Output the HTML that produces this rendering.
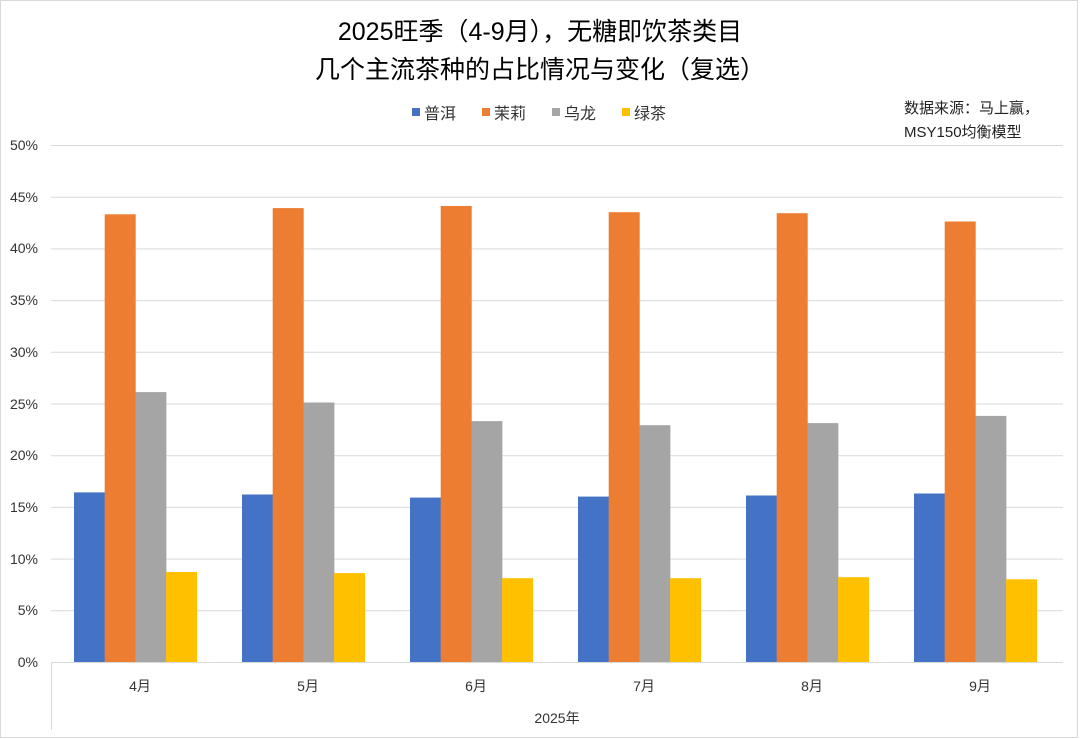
<!DOCTYPE html>
<html><head><meta charset="utf-8"><style>
html,body{margin:0;padding:0;background:#fff}
svg{display:block}
text{font-family:"Liberation Sans","Noto Sans CJK SC",sans-serif}
</style></head><body>
<svg width="1080" height="739" viewBox="0 0 1080 739" xmlns="http://www.w3.org/2000/svg">
<rect x="0.5" y="0.5" width="1077" height="737" fill="#fff" stroke="#d9d9d9"/>
<text x="540" y="40" font-size="25" text-anchor="middle" fill="#000">2025旺季（4-9月），无糖即饮茶类目</text>
<text x="540" y="78" font-size="25" text-anchor="middle" fill="#000">几个主流茶种的占比情况与变化（复选）</text>
<g font-size="16" fill="#333">
<rect x="412" y="108" width="8" height="8" fill="#4472c4"/><text x="424" y="119">普洱</text>
<rect x="482" y="108" width="8" height="8" fill="#ed7d31"/><text x="494" y="119">茉莉</text>
<rect x="552" y="108" width="8" height="8" fill="#a5a5a5"/><text x="564" y="119">乌龙</text>
<rect x="622" y="108" width="8" height="8" fill="#ffc000"/><text x="634" y="119">绿茶</text>
</g>
<text x="904" y="113" font-size="15" fill="#222">数据来源：马上赢，</text>
<text x="904" y="137" font-size="15" fill="#222">MSY150均衡模型</text>
<g stroke="#d9d9d9" stroke-width="1">
<line x1="51" y1="145.5" x2="1063" y2="145.5"/>
<line x1="51" y1="197.2" x2="1063" y2="197.2"/>
<line x1="51" y1="248.9" x2="1063" y2="248.9"/>
<line x1="51" y1="300.6" x2="1063" y2="300.6"/>
<line x1="51" y1="352.3" x2="1063" y2="352.3"/>
<line x1="51" y1="404" x2="1063" y2="404"/>
<line x1="51" y1="455.7" x2="1063" y2="455.7"/>
<line x1="51" y1="507.4" x2="1063" y2="507.4"/>
<line x1="51" y1="559.1" x2="1063" y2="559.1"/>
<line x1="51" y1="610.8" x2="1063" y2="610.8"/>
<line x1="51" y1="662.5" x2="1063" y2="662.5"/>
<line x1="51.5" y1="662" x2="51.5" y2="730"/>
</g>
<g font-size="14" fill="#333" text-anchor="end">
<text x="38" y="150">50%</text><text x="38" y="202">45%</text><text x="38" y="253">40%</text>
<text x="38" y="305">35%</text><text x="38" y="357">30%</text><text x="38" y="409">25%</text>
<text x="38" y="460">20%</text><text x="38" y="512">15%</text><text x="38" y="564">10%</text>
<text x="38" y="615">5%</text><text x="38" y="667">0%</text>
</g>
<g>
<rect x="74" y="492.4" width="31" height="169.6" fill="#4472c4"/>
<rect x="104.7" y="214.3" width="31" height="447.7" fill="#ed7d31"/>
<rect x="135.4" y="392.1" width="31" height="269.9" fill="#a5a5a5"/>
<rect x="166.1" y="572" width="31" height="90" fill="#ffc000"/>

<rect x="242" y="494.5" width="31" height="167.5" fill="#4472c4"/>
<rect x="272.7" y="208.1" width="31" height="453.9" fill="#ed7d31"/>
<rect x="303.4" y="402.5" width="31" height="259.5" fill="#a5a5a5"/>
<rect x="334.1" y="573.1" width="31" height="88.9" fill="#ffc000"/>

<rect x="410" y="497.6" width="31" height="164.4" fill="#4472c4"/>
<rect x="440.7" y="206" width="31" height="456" fill="#ed7d31"/>
<rect x="471.4" y="421.1" width="31" height="240.9" fill="#a5a5a5"/>
<rect x="502.1" y="578.2" width="31" height="83.8" fill="#ffc000"/>

<rect x="578" y="496.6" width="31" height="165.4" fill="#4472c4"/>
<rect x="608.7" y="212.2" width="31" height="449.8" fill="#ed7d31"/>
<rect x="639.4" y="425.2" width="31" height="236.8" fill="#a5a5a5"/>
<rect x="670.1" y="578.2" width="31" height="83.8" fill="#ffc000"/>

<rect x="746" y="495.5" width="31" height="166.5" fill="#4472c4"/>
<rect x="776.7" y="213.2" width="31" height="448.8" fill="#ed7d31"/>
<rect x="807.4" y="423.1" width="31" height="238.9" fill="#a5a5a5"/>
<rect x="838.1" y="577.2" width="31" height="84.8" fill="#ffc000"/>

<rect x="914" y="493.5" width="31" height="168.5" fill="#4472c4"/>
<rect x="944.7" y="221.5" width="31" height="440.5" fill="#ed7d31"/>
<rect x="975.4" y="415.9" width="31" height="246.1" fill="#a5a5a5"/>
<rect x="1006.1" y="579.3" width="31" height="82.7" fill="#ffc000"/>
</g>
<g font-size="14" fill="#333" text-anchor="middle">
<text x="140" y="691">4月</text><text x="308" y="691">5月</text><text x="476" y="691">6月</text>
<text x="644" y="691">7月</text><text x="812" y="691">8月</text><text x="980" y="691">9月</text>
<text x="557" y="723">2025年</text>
</g>
</svg>
</body></html>
